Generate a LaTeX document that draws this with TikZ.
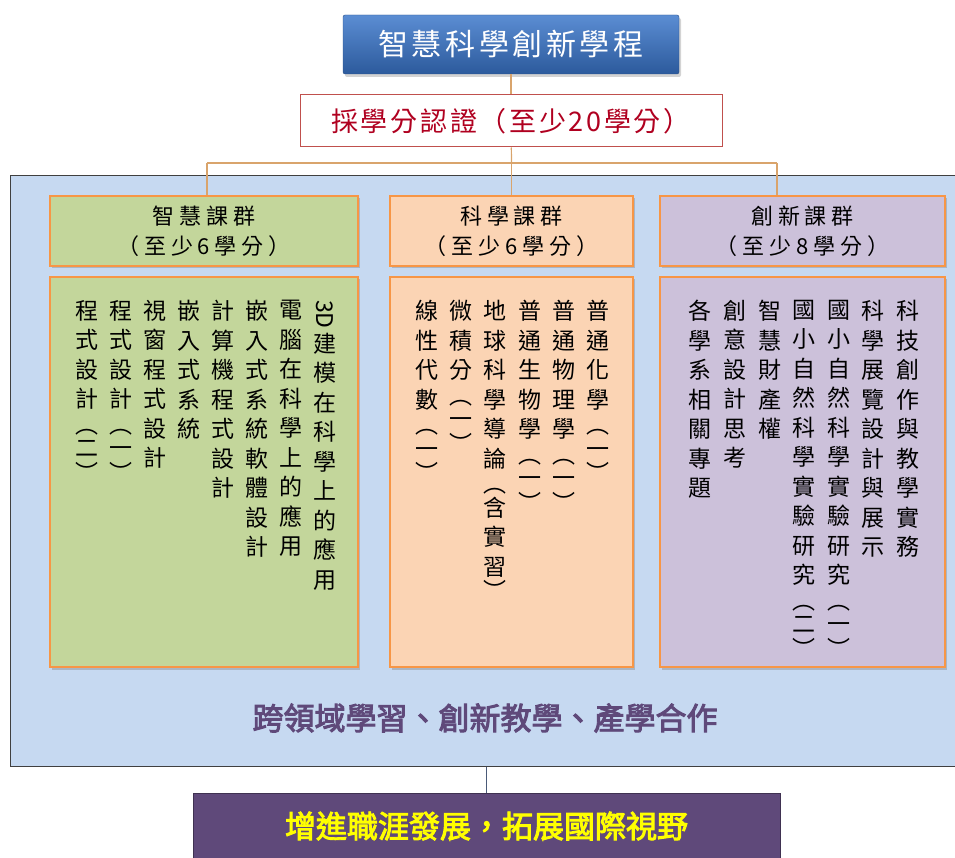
\documentclass[tikz,border=0pt]{standalone}
\usepackage{graphicx}
\usepackage{fontspec}
\setmainfont{Noto Sans CJK TC}
\newfontfamily\titlefont[LetterSpace=12]{Noto Sans CJK TC}
\newfontfamily\certfont[LetterSpace=10]{Noto Sans CJK TC}
\newfontfamily\headfont[LetterSpace=22]{Noto Sans CJK TC}
\newfontfamily\heavyfont[FakeBold=3]{Noto Sans CJK TC}
\usetikzlibrary{shadows}

\definecolor{panelBlue}{HTML}{C6D9F1}
\definecolor{panelLine}{HTML}{404040}
\definecolor{greenFill}{HTML}{C3D69B}
\definecolor{peachFill}{HTML}{FBD4B4}
\definecolor{lilacFill}{HTML}{CCC1DA}
\definecolor{boxOrange}{HTML}{F79646}
\definecolor{titleTop}{HTML}{5B8DD3}
\definecolor{titleBot}{HTML}{2C5A9C}
\definecolor{titleLine}{HTML}{2B4F86}
\definecolor{certRed}{HTML}{C0504D}
\definecolor{certText}{HTML}{B00020}
\definecolor{linkTan}{HTML}{D9A46C}
\definecolor{mottoPurple}{HTML}{5F497A}
\definecolor{goalLine}{HTML}{3F3151}
\definecolor{goalText}{HTML}{FFFF00}
\definecolor{downLine}{HTML}{4A5A78}

% one character per line, top to bottom
\makeatletter
\newcommand\threeD{\rotatebox[origin=c]{-90}{3D}}
\newcommand\lp{\vspace{-4pt}︵\par\vspace{-6pt}}
\newcommand\rp{\vspace{-5pt}︶}
\def\vcol#1{\expandafter\vcol@\expandafter{#1}}
\def\vcol@#1{\let\vcol@sep\relax\@tfor\vcol@c:=#1\do{\vcol@sep\vcol@c\let\vcol@sep\par}}
\makeatother

\begin{document}
\begin{tikzpicture}
[x=1pt, y=-1pt,
 lineLink/.style={draw=linkTan, line width=1.2pt},
 downLink/.style={draw=downLine, line width=1.2pt},
 titleBox/.style={shape=rectangle, rounded corners=2pt, top color=titleTop, bottom color=titleBot, draw=titleLine,
   minimum width=336pt, minimum height=59pt, text=white, font=\titlefont\fontsize{30}{36}\selectfont,
   drop shadow={shadow xshift=2pt, shadow yshift=-3pt, opacity=0.35}},
 certBox/.style={shape=rectangle, draw=certRed, line width=1pt, fill=white, minimum width=422pt, minimum height=52pt,
   text=certText, font=\certfont\fontsize{27}{32}\selectfont},
 panelBox/.style={shape=rectangle, draw=panelLine, line width=1pt, fill=panelBlue},
 headBox/.style={shape=rectangle, draw=boxOrange, line width=2.5pt, minimum height=70pt, align=center,
   font=\headfont\fontsize{22}{30}\selectfont, drop shadow={shadow xshift=1.5pt, shadow yshift=-2.5pt, opacity=0.4}},
 bodyBox/.style={shape=rectangle, draw=boxOrange, line width=2.5pt, minimum height=390pt,
   drop shadow={shadow xshift=1.5pt, shadow yshift=-2.5pt, opacity=0.4}},
 colText/.style={anchor=north, inner sep=0pt, text width=30pt, align=center, font=\fontsize{23}{29.5}\selectfont},
 mottoText/.style={text=mottoPurple, font=\heavyfont\fontsize{31}{36}\selectfont},
 goalBox/.style={shape=rectangle, fill=mottoPurple, draw=goalLine, line width=1pt, text=goalText,
   font=\heavyfont\fontsize{31}{36}\selectfont}]

\useasboundingbox (0,0) rectangle (955,858);
\clip (0,0) rectangle (955,858);

\node (title) at (511,44.5) [titleBox] {智慧科學創新學程};
\node (cert) at (511,121) [certBox] {採學分認證（至少20學分）};

\node (panel) at (487.5,471) [panelBox, minimum width=955pt, minimum height=590pt] {};

\node (headG) at (204,231) [headBox, fill=greenFill, minimum width=308pt] {智慧課群\\（至少6學分）};
\node (headS) at (511.5,231) [headBox, fill=peachFill, minimum width=243pt] {科學課群\\（至少6學分）};
\node (headI) at (802.5,231) [headBox, fill=lilacFill, minimum width=285pt] {創新課群\\（至少8學分）};
\node (bodyG) at (204,472) [bodyBox, fill=greenFill, minimum width=308pt] {};
\node (bodyS) at (511.5,472) [bodyBox, fill=peachFill, minimum width=243pt] {};
\node (bodyI) at (802.5,472) [bodyBox, fill=lilacFill, minimum width=285pt] {};

% course columns, right to left
 \foreach \txt [count=\i from 0] in {
\threeD 建模在科學上的應用,
電腦在科學上的應用,
嵌入式系統軟體設計,
計算機程式設計,
嵌入式系統,
視窗程式設計,
程式設計\lp 一\rp,
程式設計\lp 二\rp
 }
 {
          \node (colG\i) at ({325-34*\i},300) [colText] {\vcol{\txt}};
 }

 \foreach \txt [count=\i from 0] in {
普通化學\lp 一\rp,
普通物理學\lp 一\rp,
普通生物學\lp 一\rp,
地球科學導論\lp 含實習\rp,
微積分\lp 一\rp,
線性代數\lp 一\rp
 }
 {
          \node (colS\i) at ({598-34.2*\i},300) [colText] {\vcol{\txt}};
 }

 \foreach \txt [count=\i from 0] in {
科技創作與教學實務,
科學展覽設計與展示,
國小自然科學實驗研究\lp 一\rp,
國小自然科學實驗研究\lp 二\rp,
智慧財產權,
創意設計思考,
各學系相關專題
 }
 {
          \node (colI\i) at ({908-34.6*\i},300) [colText] {\vcol{\txt}};
 }

\node (motto) at (485,718) [mottoText] {跨領域學習、創新教學、產學合作};
\node (goal) at (486.5,826) [goalBox, minimum width=587pt, minimum height=66pt] {增進職涯發展，拓展國際視野};

\coordinate (busL) at (207,163);
\coordinate (busM) at (511.5,163);
\coordinate (busR) at (777,163);

\path
(title) edge[lineLink] (cert)
(cert) edge[lineLink] (busM)
(busL) edge[lineLink] (busR)
(busL) edge[lineLink] (busL |- headG.north)
(busM) edge[lineLink] (headS)
(busR) edge[lineLink] (busR |- headI.north)
(goal.north |- panel.south) edge[downLink] (goal);
\end{tikzpicture}
\end{document}
